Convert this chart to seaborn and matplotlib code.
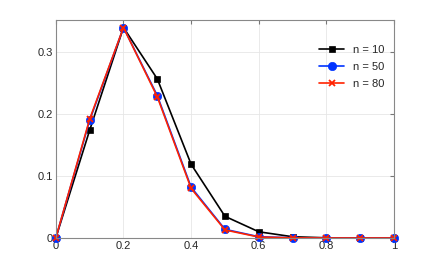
import numpy as np
import pandas as pd
import matplotlib
matplotlib.use("Agg")
import matplotlib.pyplot as plt
import seaborn as sns

# --- data ---
x_vals = [0.0, 0.1, 0.2, 0.3, 0.4, 0.5, 0.6, 0.7, 0.8, 0.9, 1.0]
n10 = [0.0, 0.174, 0.340, 0.257, 0.119, 0.035, 0.010, 0.002, 0.0003, 0.0, 0.0]
n50 = [0.0, 0.190, 0.340, 0.230, 0.082, 0.014, 0.002, 0.0003, 0.0, 0.0, 0.0]
n80 = [0.0, 0.192, 0.340, 0.228, 0.080, 0.013, 0.0015, 0.0002, 0.0, 0.0, 0.0]
series_labels = ["n = 10", "n = 50", "n = 80"]
series_colors = ["black", "#0033ff", "#ff2200"]
series_markers = ["s", "o", "x"]

df = pd.DataFrame({
    "x": x_vals * 3,
    "y": n10 + n50 + n80,
    "serie": [series_labels[0]] * 11 + [series_labels[1]] * 11 + [series_labels[2]] * 11,
})

sns.set_style("white")
plt.rcParams["font.family"] = ["Liberation Sans", "DejaVu Sans"]

fig = plt.figure(figsize=(4.36, 2.68), dpi=100)
ax = fig.add_axes([0.128, 0.112, 0.776, 0.813])

sizes = {"s": 5, "o": 6, "x": 5}
for lab, col, mk in zip(series_labels, series_colors, series_markers):
    sub = df[df["serie"] == lab]
    sns.lineplot(data=sub, x="x", y="y", ax=ax, color=col, marker=mk,
                 markersize=sizes[mk], markeredgecolor=col,
                 markeredgewidth=1.3 if mk == "x" else 0.5,
                 linewidth=1.2, label=lab, clip_on=False)

ax.set_xlim(0, 1)
ax.set_ylim(0, 0.352)
ax.set_xticks([0, 0.2, 0.4, 0.6, 0.8, 1])
ax.set_xticklabels(["0", "0.2", "0.4", "0.6", "0.8", "1"])
ax.set_yticks([0, 0.1, 0.2, 0.3])
ax.set_yticklabels(["0", "0.1", "0.2", "0.3"])
ax.set_xlabel("")
ax.set_ylabel("")
ax.grid(True, color="#e6e6e6", linewidth=0.6)
ax.tick_params(direction="in", length=3, labelsize=8, color="#777777", pad=2)
ax.tick_params(top=True, right=True, labeltop=False, labelright=False)
for s in ax.spines.values():
    s.set_color("#888888")
    s.set_linewidth(0.8)

ax.legend(loc="upper right", frameon=False, fontsize=8, handlelength=2.2,
          bbox_to_anchor=(1.0, 0.93), labelspacing=0.6)

fig.savefig("out.png", dpi=100)
